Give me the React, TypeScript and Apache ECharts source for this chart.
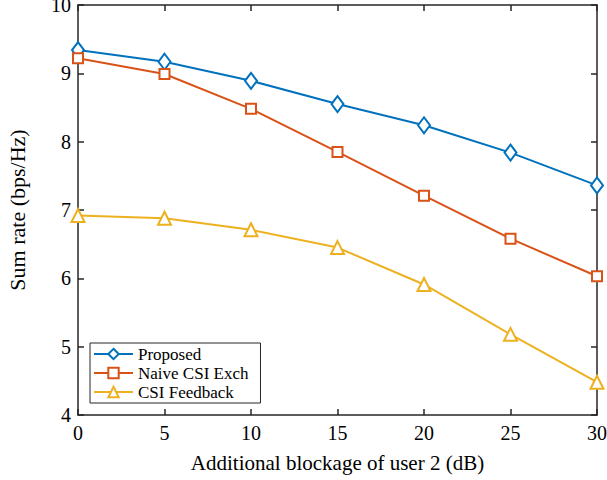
import React, { useEffect, useRef } from "react";
import * as echarts from "echarts";

const xValues = [0, 5, 10, 15, 20, 25, 30];
const proposed = [9.34, 9.17, 8.89, 8.55, 8.24, 7.84, 7.36];
const naive = [9.22, 8.99, 8.48, 7.85, 7.21, 6.58, 6.03];
const feedback = [6.92, 6.88, 6.71, 6.45, 5.91, 5.18, 4.48];
const seriesNames = ["Proposed", "Naive CSI Exch", "CSI Feedback"];
const colors = ["#0072BD", "#D95319", "#EDB120"];

const font = "'Liberation Serif', 'Times New Roman', serif";

export default function App() {
  const ref = useRef<HTMLDivElement>(null);
  useEffect(() => {
    if (!ref.current) return;
    const chart = echarts.init(ref.current, undefined, { renderer: "svg" });
    const pair = (arr: number[]) => xValues.map((x, i) => [x, arr[i]]);
    const axisCommon = {
      axisLine: { show: true, onZero: false, lineStyle: { color: "#262626", width: 1.5 } },
      axisTick: { show: true, inside: true, length: 6, lineStyle: { color: "#262626", width: 1.5 } },
      splitLine: { show: false },
    };
    const mk = (name: string, data: number[], color: string, symbol: string, size: any) => ({
      name,
      type: "line",
      data: pair(data),
      symbol,
      symbolSize: size,
      showAllSymbol: true,
      lineStyle: { color, width: 2 },
      itemStyle: { color: "#fff", borderColor: color, borderWidth: 2 },
      emphasis: { disabled: true },
    });
    chart.setOption({
      animation: false,
      textStyle: { fontFamily: font },
      grid: { left: 78, right: 10, top: 5, bottom: 65, containLabel: false, outerBoundsMode: "none" },
      legend: {
        orient: "vertical",
        left: 90,
        top: 343,
        data: seriesNames,
        backgroundColor: "#fff",
        borderColor: "#262626",
        borderWidth: 1,
        padding: [2, 12, 2, 3],
        itemGap: 1,
        itemWidth: 39,
        itemHeight: 13,
        itemTextGap: 5,
        textStyle: { fontFamily: font, fontSize: 17, lineHeight: 18, color: "#000" },
      },
      xAxis: [
        {
          type: "value",
          min: 0,
          max: 30,
          interval: 5,
          name: "Additional blockage of user 2 (dB)",
          nameLocation: "middle",
          nameGap: 37,
          nameTextStyle: { fontFamily: font, fontSize: 21, color: "#000" },
          axisLabel: { fontFamily: font, fontSize: 20, color: "#000", margin: 8 },
          ...axisCommon,
        },
        {
          type: "value",
          position: "top",
          min: 0,
          max: 30,
          interval: 5,
          axisLabel: { show: false },
          ...axisCommon,
        },
      ],
      yAxis: [
        {
          type: "value",
          min: 4,
          max: 10,
          interval: 1,
          name: "Sum rate (bps/Hz)",
          nameLocation: "middle",
          nameGap: 50,
          nameTextStyle: { fontFamily: font, fontSize: 22, color: "#000" },
          axisLabel: { fontFamily: font, fontSize: 20, color: "#000", margin: 7 },
          ...axisCommon,
        },
        {
          type: "value",
          position: "right",
          min: 4,
          max: 10,
          interval: 1,
          axisLabel: { show: false },
          ...axisCommon,
        },
      ],
      series: [
        mk(seriesNames[0], proposed, colors[0], "diamond", [12, 16]),
        mk(seriesNames[1], naive, colors[1], "rect", 10),
        mk(seriesNames[2], feedback, colors[2], "triangle", 13),
      ],
    });
    return () => chart.dispose();
  }, []);
  return <div ref={ref} style={{ width: 607, height: 480, position: "absolute", left: 0, top: 0 }} />;
}
